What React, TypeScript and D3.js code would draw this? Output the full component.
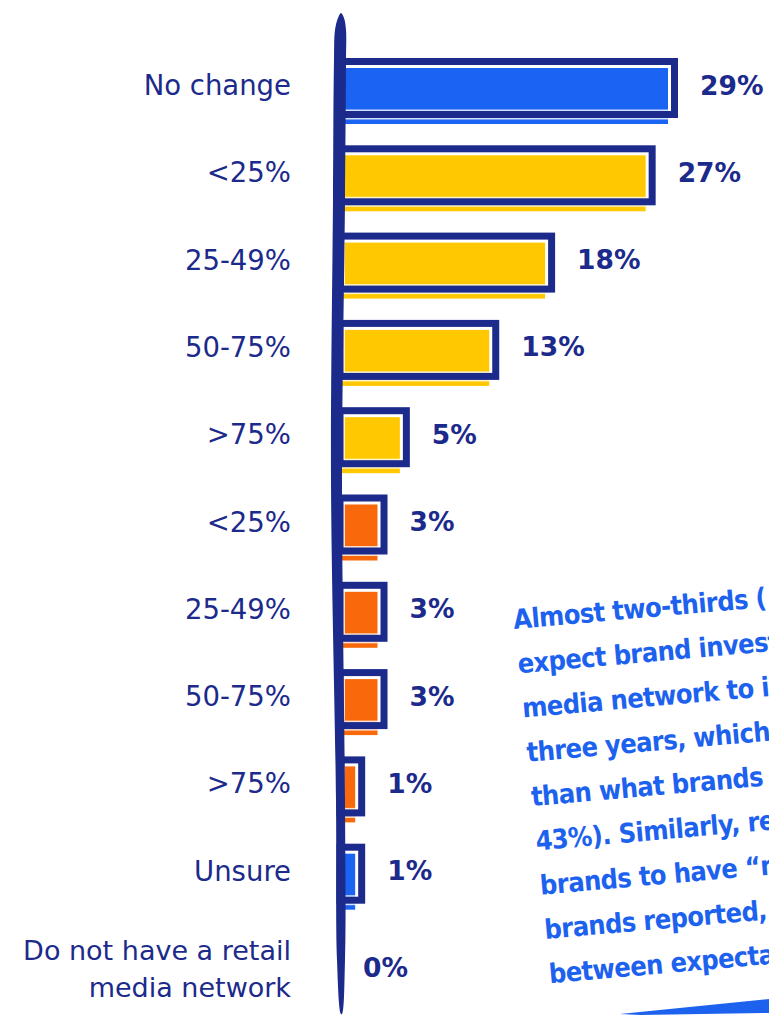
import { useMemo } from "react";
import * as d3 from "d3";

const categories = [
  "No change",
  "<25%",
  "25-49%",
  "50-75%",
  ">75%",
  "<25%",
  "25-49%",
  "50-75%",
  ">75%",
  "Unsure",
  "Do not have a retail|media network",
];
const values = [29, 27, 18, 13, 5, 3, 3, 3, 1, 1, 0];
const groups = [
  "nochange",
  "increase",
  "increase",
  "increase",
  "increase",
  "decrease",
  "decrease",
  "decrease",
  "decrease",
  "unsure",
  "none",
];
const noteLines = [
  "Almost two-thirds (",
  "expect brand invest",
  "media network to in",
  "three years, which",
  "than what brands",
  "43%). Similarly, re",
  "brands to have \u201cn",
  "brands reported, s",
  "between expectat",
];

const W = 769;
const H = 1015;
const NAVY = "#1b2a8b";
const colorOf: Record<string, string> = {
  nochange: "#1b63f2",
  increase: "#ffc800",
  decrease: "#f9690b",
  unsure: "#1b63f2",
  none: "#1b63f2",
};

export default function App() {
  const rows = useMemo(() => d3.range(values.length), []);
  const y = d3.scalePoint<number>().domain(rows).range([88, 961]);
  const x = d3.scaleLinear().domain([0, 29]).range([344, 668]);

  // brush-like axis stroke
  const axisPts: [number, number][] = [
    [341, 13], [344, 18], [346, 30], [346, 60], [345, 200], [342, 480], [345, 800], [345, 960], [342, 1014],
    [341, 1014], [337, 960], [336, 800], [331, 480], [333, 200], [334, 60], [335, 30], [338, 18],
  ];
  const axisPath = d3.line().curve(d3.curveCatmullRomClosed.alpha(0.5))(axisPts) ?? "";

  const swoosh = "M620,1014 L769,999 L769,1013 L640,1015 Z";

  return (
    <svg
      width={W}
      height={H}
      style={{ position: "absolute", left: 0, top: 0, display: "block", background: "#fff" }}
    >
      {rows.map((i) => {
        const cy = y(i) as number;
        const v = values[i];
        const end = x(v);
        const lines = categories[i].split("|");
        const two = lines.length > 1;
        return (
          <g key={i}>
            <text
              x={291}
              y={two ? cy - 11 : cy - 3}
              textAnchor="end"
              fontFamily="'DejaVu Sans', sans-serif"
              fontSize={two ? 27 : 27.5}
              fill={NAVY}
              dominantBaseline="central"
            >
              {lines.map((l, k) => (
                <tspan key={k} x={291} dy={k === 0 ? 0 : 37}>
                  {l}
                </tspan>
              ))}
            </text>
            {v > 0 && (
              <>
                <rect x={339} y={cy - 20} width={end - 339} height={56} fill={colorOf[groups[i]]} />
                <rect
                  x={340}
                  y={cy - 26.5}
                  width={end + 6.5 - 340}
                  height={53}
                  fill="none"
                  stroke="#fff"
                  strokeWidth={10}
                  opacity={0.8}
                />
                <rect
                  x={340}
                  y={cy - 26.5}
                  width={end + 6.5 - 340}
                  height={53}
                  fill="none"
                  stroke={NAVY}
                  strokeWidth={7}
                />
              </>
            )}
            <text
              x={v > 0 ? end + 32 : x(0) + 19}
              y={v > 0 ? cy - 3 : cy + 6}
              fontFamily="'DejaVu Sans', sans-serif"
              fontWeight="bold"
              fontSize={26.5}
              fill={NAVY}
              dominantBaseline="central"
            >
              {v}%
            </text>
          </g>
        );
      })}
      <path d={axisPath} fill={NAVY} />
      <g transform="translate(514,629) rotate(-5)">
        {noteLines.map((t, k) => (
          <text
            key={k}
            x={k * 0.6}
            y={k * 44.5}
            fontFamily="'DejaVu Sans Condensed', 'DejaVu Sans', sans-serif"
            fontWeight="bold"
            fontSize={27}
            letterSpacing={-0.6}
            fill="#1d62ee"
          >
            {t}
          </text>
        ))}
      </g>
      <path d={swoosh} fill="#1d62ee" />
    </svg>
  );
}
